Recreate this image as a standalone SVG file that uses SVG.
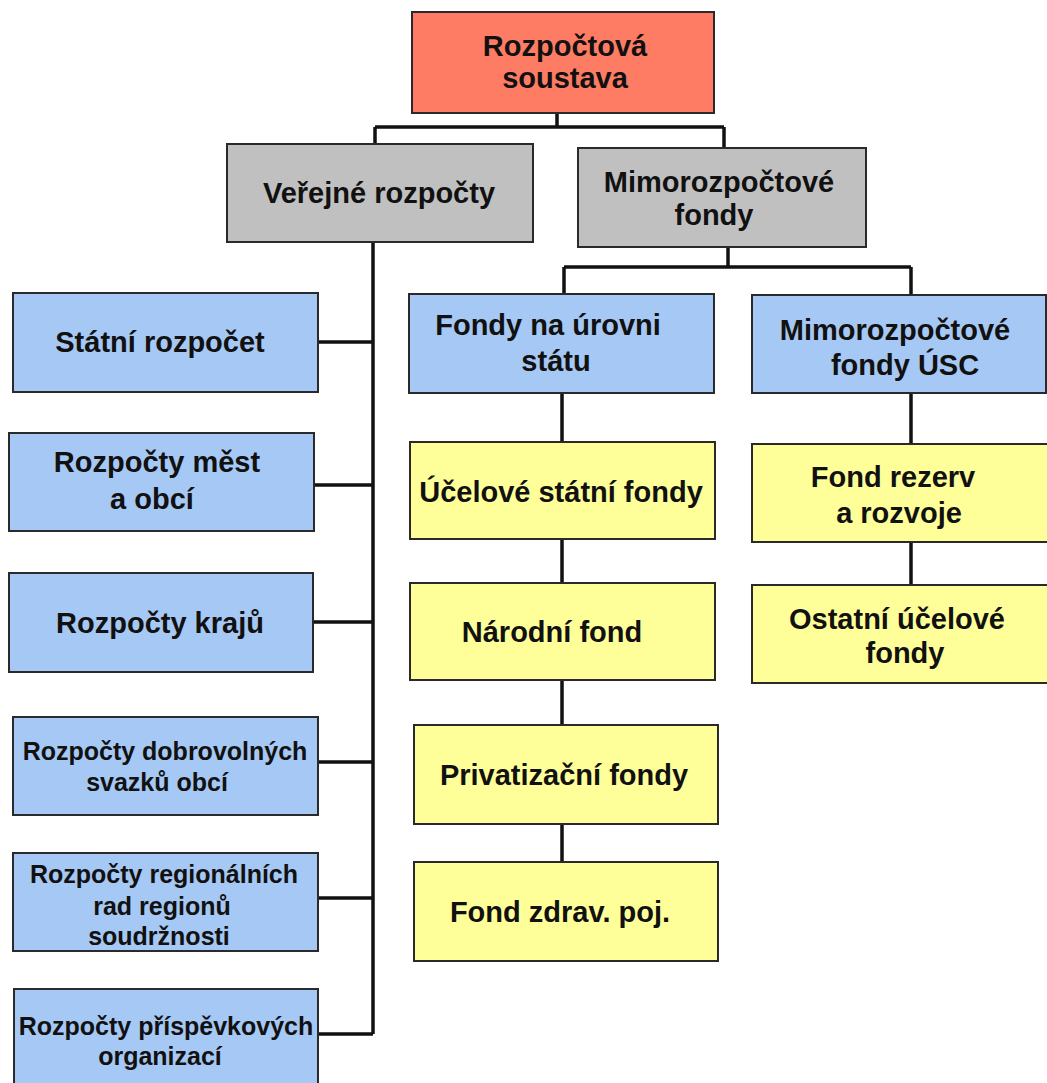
<svg xmlns="http://www.w3.org/2000/svg" width="1047" height="1083" viewBox="0 0 1047 1083">
<style>
.box{stroke:#2a2a2a;stroke-width:2}
.red{fill:#FF7C64}
.gray{fill:#C0C0C0}
.blue{fill:#A6C8F4}
.yel{fill:#FFFF99}
text{font-family:"Liberation Sans",Arial,sans-serif;font-weight:bold;font-size:29px;fill:#111;text-anchor:middle}
.sm{font-size:25px}
.conn{stroke:#111;stroke-width:3.5;fill:none}
</style>
<rect width="1047" height="1083" fill="#fff"/>
<g id="connectors">
<path class="conn" d="M557 113V127M375 127H724M375 127V144M724 127V148"/>
<path class="conn" d="M373 242V1034M318 342H373M314 485H373M313 622H373M318 762H373M318 898H373M318 1034H373"/>
<path class="conn" d="M728 247V267M564 267H911M564 267V294M911 267V295"/>
<path class="conn" d="M562 393V442M562 539V583M562 680V725M562 824V862"/>
<path class="conn" d="M911 393V444M911 542V585"/>
</g>
<g id="root"><rect class="box red" x="412" y="12" width="302" height="101"/><text x="565" y="56">Rozpočtová</text><text x="565" y="88">soustava</text></g>
<g id="verejne"><rect class="box gray" x="227" y="144" width="306" height="98"/><text x="379" y="203">Veřejné rozpočty</text></g>
<g id="mimo"><rect class="box gray" x="578" y="148" width="288" height="99"/><text x="719" y="192">Mimorozpočtové</text><text x="714" y="225">fondy</text></g>
<g id="statni"><rect class="box blue" x="13" y="293" width="305" height="99"/><text x="160" y="352">Státní rozpočet</text></g>
<g id="mest"><rect class="box blue" x="9" y="433" width="305" height="98"/><text x="157" y="472">Rozpočty měst</text><text x="152" y="509">a obcí</text></g>
<g id="kraju"><rect class="box blue" x="9" y="573" width="304" height="99"/><text x="160" y="633">Rozpočty krajů</text></g>
<g id="dobrovolnych"><rect class="box blue" x="13" y="717" width="305" height="98"/><text class="sm" x="165" y="760">Rozpočty dobrovolných</text><text class="sm" x="157" y="791">svazků obcí</text></g>
<g id="regionalnich"><rect class="box blue" x="13" y="853" width="305" height="98"/><text class="sm" x="164" y="883">Rozpočty regionálních</text><text class="sm" x="162" y="915">rad regionů</text><text class="sm" x="159" y="945">soudržnosti</text></g>
<g id="prispevkovych"><rect class="box blue" x="14" y="989" width="304" height="104"/><text class="sm" x="166" y="1035">Rozpočty příspěvkových</text><text class="sm" x="160" y="1065">organizací</text></g>
<g id="fondy-statu"><rect class="box blue" x="409" y="294" width="305" height="99"/><text x="548" y="335">Fondy na úrovni</text><text x="556" y="371">státu</text></g>
<g id="mimo-usc"><rect class="box blue" x="752" y="295" width="294" height="98"/><text x="895" y="340">Mimorozpočtové</text><text x="905" y="375">fondy ÚSC</text></g>
<g id="ucelove"><rect class="box yel" x="410" y="442" width="305" height="97"/><text x="561" y="502">Účelové státní fondy</text></g>
<g id="rezerv"><rect class="box yel" x="752" y="444" width="297" height="98"/><text x="893" y="487">Fond rezerv</text><text x="899" y="523">a rozvoje</text></g>
<g id="narodni"><rect class="box yel" x="410" y="583" width="305" height="97"/><text x="552" y="642">Národní fond</text></g>
<g id="ostatni"><rect class="box yel" x="752" y="585" width="297" height="98"/><text x="897" y="629">Ostatní účelové</text><text x="905" y="663">fondy</text></g>
<g id="privatizacni"><rect class="box yel" x="414" y="725" width="304" height="99"/><text x="564" y="785">Privatizační fondy</text></g>
<g id="zdrav"><rect class="box yel" x="414" y="862" width="304" height="99"/><text x="560" y="922">Fond zdrav. poj.</text></g>
</svg>
